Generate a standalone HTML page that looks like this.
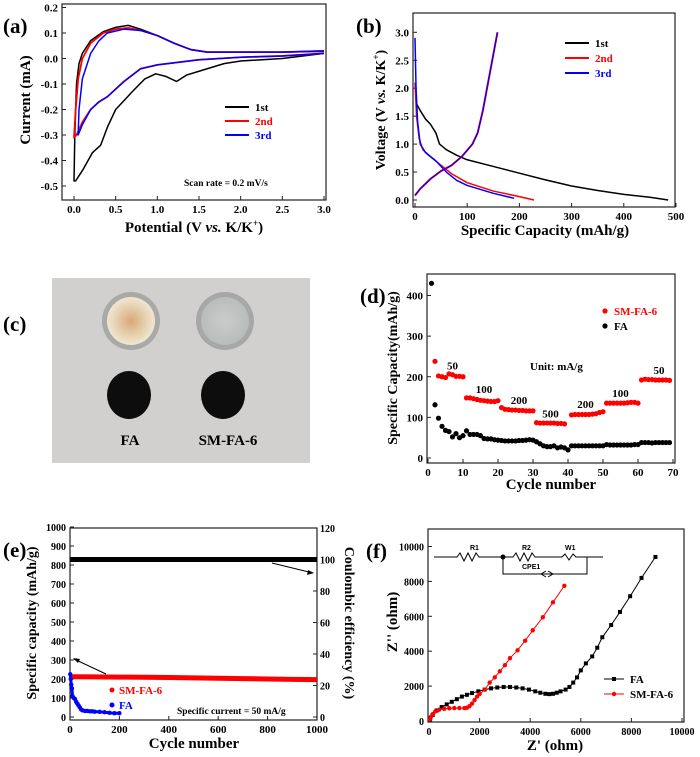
<!DOCTYPE html>
<html><head><meta charset="utf-8"><style>
body{margin:0;background:#fff}
svg{display:block;font-family:"Liberation Serif",serif;font-weight:bold}
</style></head><body>
<svg id="fig" width="700" height="757" viewBox="0 0 700 757">
<defs>
<radialGradient id="faCap" cx="0.5" cy="0.5" r="0.5"><stop offset="0" stop-color="#d9a877"/><stop offset="0.7" stop-color="#e8d6b8"/><stop offset="1" stop-color="#efe6d2"/></radialGradient>
<radialGradient id="smCap" cx="0.5" cy="0.5" r="0.5"><stop offset="0" stop-color="#c9ccca"/><stop offset="1" stop-color="#b9bcba"/></radialGradient>
</defs>
<g>
<rect x="52" y="278" width="258" height="185" fill="#d2d0ce"/>
<circle cx="131" cy="321" r="29" fill="#a9a9a7"/>
<circle cx="131" cy="321" r="24" fill="url(#faCap)"/>
<circle cx="225" cy="321" r="29" fill="#a6a8a8"/>
<circle cx="225" cy="321" r="24" fill="url(#smCap)"/>
<ellipse cx="129" cy="395" rx="22" ry="24" fill="#0d0d0d"/>
<ellipse cx="223" cy="395" rx="22" ry="24" fill="#0d0d0d"/>
<text x="130" y="445" font-size="15" text-anchor="middle">FA</text>
<text x="228" y="445" font-size="15" text-anchor="middle">SM-FA-6</text>
</g>
<text x="3" y="33" font-size="21">(a)</text>
<text x="356" y="33" font-size="21">(b)</text>
<text x="3" y="331" font-size="21">(c)</text>
<text x="360" y="303" font-size="21">(d)</text>
<text x="3" y="557" font-size="21">(e)</text>
<text x="366" y="558" font-size="21">(f)</text>
</svg>
<script>
// ---- data arrays ----
const cv1X=[3.0,2.5,2.0,1.8,1.5,1.35,1.23,1.1,0.98,0.85,0.7,0.5,0.4,0.32,0.22,0.1,0.02,0.0,0.01,0.03,0.06,0.1,0.2,0.35,0.5,0.65,0.8,1.0,1.2,1.4,1.6,2.0,2.5,3.0];
const cv1Y=[0.02,0.0,-0.01,-0.02,-0.05,-0.065,-0.09,-0.07,-0.06,-0.08,-0.13,-0.2,-0.27,-0.34,-0.37,-0.44,-0.48,-0.48,-0.3,-0.1,-0.02,0.02,0.07,0.105,0.122,0.13,0.115,0.09,0.06,0.035,0.025,0.025,0.025,0.028];
const cv2X=[3.0,2.5,2.0,1.5,1.0,0.8,0.6,0.4,0.3,0.2,0.1,0.03,0.0,0.02,0.05,0.1,0.2,0.35,0.5,0.65,0.8,1.0,1.2,1.4,1.6,2.0,2.5,3.0];
const cv2Y=[0.02,0.01,0.005,-0.005,-0.025,-0.04,-0.09,-0.15,-0.17,-0.2,-0.25,-0.3,-0.31,-0.2,-0.08,0.0,0.06,0.1,0.115,0.12,0.11,0.09,0.06,0.035,0.025,0.025,0.025,0.03];
const cv3X=[3.0,2.5,2.0,1.5,1.0,0.8,0.6,0.4,0.3,0.2,0.1,0.05,0.06,0.1,0.2,0.3,0.4,0.6,0.8,1.0,1.2,1.4,1.6,2.0,2.5,3.0];
const cv3Y=[0.02,0.01,0.005,-0.005,-0.025,-0.04,-0.09,-0.15,-0.17,-0.2,-0.26,-0.3,-0.2,-0.08,0.02,0.07,0.1,0.115,0.11,0.09,0.06,0.035,0.025,0.025,0.025,0.03];
const b1X=[3,10,20,30,40,47,60,80,100,150,200,250,300,350,400,450,485];
const b1Y=[1.72,1.6,1.45,1.35,1.2,1.0,0.9,0.8,0.72,0.6,0.48,0.36,0.25,0.17,0.1,0.05,0.0];
const b2X=[0,3,8,15,30,50,70,100,150,200,228];
const b2Y=[2.1,1.5,1.1,0.9,0.77,0.62,0.47,0.31,0.16,0.06,0.0];
const b3X=[0,2,5,10,20,40,60,80,100,150,190];
const b3Y=[2.9,2.0,1.4,1.0,0.85,0.7,0.5,0.35,0.26,0.12,0.03];
const bcX=[0,10,30,50,70,90,110,120,130,140,150,158];
const bcY=[0.08,0.2,0.38,0.52,0.62,0.78,1.0,1.2,1.6,2.1,2.6,3.0];
const dSmCycles=[2,3,4,5,6,7,8,9,10,11,12,13,14,15,16,17,18,19,20,21,22,23,24,25,26,27,28,29,30,31,32,33,34,35,36,37,38,39,41,42,43,44,45,46,47,48,49,50,51,52,53,54,55,56,57,58,59,60,61,62,63,64,65,66,67,68,69];
const dSm=[238,202,200,198,207,205,201,201,200,148,148,146,144,142,141,140,139,139,141,124,120,119,118,118,117,117,116,116,116,87,86,86,86,86,86,85,85,84,106,107,107,107,107,107,108,109,112,114,135,135,135,135,135,135,136,137,137,135,192,194,193,193,192,192,192,192,191];
const dFa=[430,131,98,78,68,65,52,60,50,55,67,58,58,58,55,48,47,47,45,44,43,42,42,42,42,43,43,44,45,44,40,35,30,28,28,30,25,27,25,20,30,30,30,30,30,30,30,30,30,30,33,32,32,32,32,32,32,32,33,33,38,38,38,37,38,38,38,38,38];
const dRateLabels=["50","100","200","500","200","100","50"];
const dRateCycle=[7,16,26,35,45,55,66];
const dRateCap=[218,160,133,100,123,150,207];
const eCycles=[1,100,200,300,400,500,600,700,800,900,1000];
const eSm=[212,211,210,209,208,206,204,202,200,198,197];
const eCE=[100,100,100,100,100,100,100,100,100,100,100];
const eFaCycles=[1,3,5,8,10,15,20,25,30,35,40,45,50,60,70,80,90,100,120,140,160,180,200];
const eFa=[225,200,170,150,110,100,95,80,70,60,50,40,35,32,32,30,30,28,27,25,22,20,20];
const fFaX=[50,150,300,500,700,900,1100,1300,1500,1700,1950,2200,2450,2700,2950,3200,3450,3700,3950,4200,4400,4600,4750,4900,5050,5200,5400,5550,5700,5850,6000,6200,6450,6650,6850,7200,7550,7950,8400,8950];
const fFaY=[150,350,600,800,950,1100,1250,1400,1500,1600,1700,1800,1870,1920,1950,1950,1920,1870,1800,1700,1620,1560,1540,1560,1620,1700,1800,1950,2200,2500,2900,3300,3700,4200,4800,5500,6250,7150,8200,9400];
const fSmX=[30,80,150,250,400,600,800,1000,1200,1400,1500,1600,1700,1800,1900,2000,2200,2400,2600,2800,3000,3200,3500,3800,4100,4500,4900,5350];
const fSmY=[100,250,400,550,650,700,730,740,740,740,760,850,1000,1200,1400,1550,1800,2200,2500,2850,3200,3600,4050,4600,5200,5950,6800,7750];

const NS="http://www.w3.org/2000/svg", svg=document.getElementById('fig');
function mk(tag,attrs,parent,text){const e=document.createElementNS(NS,tag);for(const k in attrs)e.setAttribute(k,attrs[k]);if(text!==undefined)e.textContent=text;(parent||svg).appendChild(e);return e;}
function lin(d0,d1,r0,r1){return v=>r0+(v-d0)/(d1-d0)*(r1-r0);}
function frame(name,l,t,r,b){const g=mk('g',{});
 const f=mk('rect',{x:l,y:t,width:r-l,height:b-t,fill:'none',stroke:'#222','stroke-width':1.2},g);return g;}
function xticks(g,vals,sx,b,labels,fs){vals.forEach((v,i)=>{mk('line',{x1:sx(v),x2:sx(v),y1:b,y2:b-4,stroke:'#222'},g);const t=mk('text',{x:sx(v),y:b+13,'font-size':fs||11,'text-anchor':'middle'},g,labels[i]);});}
function yticks(g,vals,sy,l,labels,fs){vals.forEach((v,i)=>{mk('line',{x1:l,x2:l+4,y1:sy(v),y2:sy(v),stroke:'#222'},g);const t=mk('text',{x:l-4,y:sy(v)+4,'font-size':fs||11,'text-anchor':'end'},g,labels[i]);});}
function line(g,xs,ys,sx,sy,color,w,name){const p=mk('polyline',{points:xs.map((x,i)=>sx(x)+','+sy(ys[i])).join(' '),fill:'none',stroke:color,'stroke-width':w||1.5,'stroke-linejoin':'round'},g);return p;}
function title(g,x,y,txt,rot,fs,name){const t=mk('text',{x:x,y:y,'font-size':fs||15,'text-anchor':'middle',transform:rot?`rotate(-90 ${x} ${y})`:''},g,txt);return t;}
function leg(g,x,y,color,txt,fs,name){mk('line',{x1:x,x2:x+24,y1:y-4,y2:y-4,stroke:color,'stroke-width':2},g);const t=mk('text',{x:x+30,y:y,'font-size':fs||11,fill:color},g,txt);}
function fmt1(v){return v.toFixed(1);}

{const g=frame('panel-a-cv',62,4,326,200);const sx=lin(0,3,74,324),sy=lin(0,0.2,58.5,7.5);
 const xv=[0,0.5,1,1.5,2,2.5,3];xticks(g,xv,sx,200,xv.map(fmt1));
 const yv=[0.2,0.1,0,-0.1,-0.2,-0.3,-0.4,-0.5];yticks(g,yv,sy,62,yv.map(fmt1));
 line(g,cv1X,cv1Y,sx,sy,'#000',1.5,'cv-1st');line(g,cv2X,cv2Y,sx,sy,'#f00',1.8,'cv-2nd');line(g,cv3X,cv3Y,sx,sy,'#00f',1.5,'cv-3rd');
 leg(g,225,111,'#000','1st',11,'legend-1st');leg(g,225,125,'#f00','2nd',11,'legend-2nd');leg(g,225,139,'#00f','3rd',11,'legend-3rd');
 const s=mk('text',{x:184,y:186,'font-size':9.5},g,'Scan rate = 0.2 mV/s');
 title(g,30,100,'Current (mA)',true,15,'y-axis-title');
 const xt=title(g,194,232,'',false,15,'x-axis-title');xt.innerHTML='Potential (V <tspan font-style="italic">vs.</tspan> K/K<tspan dy="-6" font-size="9">+</tspan><tspan dy="6">)</tspan>';}
{const g=frame('panel-b-voltage',413,13,675,207);const sx=lin(0,500,415,676),sy=lin(0,3,200,32.3);
 const xv=[0,100,200,300,400,500];xticks(g,xv,sx,207,xv.map(String));
 const yv=[0,0.5,1,1.5,2,2.5,3];yticks(g,yv,sy,413,yv.map(fmt1));
 line(g,b1X,b1Y,sx,sy,'#000',1.5,'discharge-1st');line(g,b2X,b2Y,sx,sy,'#f00',1.5,'discharge-2nd');line(g,b3X,b3Y,sx,sy,'#00f',1.5,'discharge-3rd');
 line(g,bcX,bcY,sx,sy,'#f00',2,'charge-2nd');line(g,bcX,bcY,sx,sy,'#00f',1.2,'charge-3rd');
 leg(g,565,47,'#000','1st',11,'legend-1st');leg(g,565,62,'#f00','2nd',11,'legend-2nd');leg(g,565,77,'#00f','3rd',11,'legend-3rd');
 title(g,385,110,'',true,14,'y-axis-title').innerHTML='Voltage (V <tspan font-style="italic">vs.</tspan> K/K<tspan dy="-6" font-size="9">+</tspan><tspan dy="6">)</tspan>';
 title(g,545,235,'Specific Capacity (mAh/g)',false,15,'x-axis-title');}
{const g=frame('panel-d-rate',427,274,675,463);const sx=lin(0,70,428,673),sy=lin(0,400,458,295.5);
 const xv=[0,10,20,30,40,50,60,70];xticks(g,xv,sx,463,xv.map(String));
 const yv=[0,100,200,300,400];yticks(g,yv,sy,427,yv.map(String));
 dFa.forEach((v,i)=>{const c=mk('circle',{cx:sx(i+1),cy:sy(v),r:2.6,fill:'#000'},g);});
 dSm.forEach((v,i)=>{const c=mk('circle',{cx:sx(dSmCycles[i]),cy:sy(v),r:2.6,fill:'#f00'},g);});
 dRateLabels.forEach((s,i)=>{const t=mk('text',{x:sx(dRateCycle[i]),y:sy(dRateCap[i]),'font-size':11,'text-anchor':'middle'},g,s);});
 const u=mk('text',{x:530,y:370,'font-size':11},g,'Unit: mA/g');
 mk('circle',{cx:605,cy:311,r:2.6,fill:'#f00'},g);const l1=mk('text',{x:614,y:315,'font-size':11,fill:'#f00'},g,'SM-FA-6');
 mk('circle',{cx:605,cy:326,r:2.6,fill:'#000'},g);const l2=mk('text',{x:614,y:330,'font-size':11},g,'FA');
 title(g,397,368,'Specific Capacity(mAh/g)',true,14,'y-axis-title');
 title(g,551,489,'Cycle number',false,15,'x-axis-title');}
{const g=frame('panel-e-cycling',70,528,317,720);const sx=lin(0,1000,70,317),sy=lin(0,1000,717,527),sy2=lin(0,120,717,528);
 const xv=[0,200,400,600,800,1000];xticks(g,xv,sx,720,xv.map(String));
 const yv=[0,100,200,300,400,500,600,700,800,900,1000];yticks(g,yv,sy,70,yv.map(String),10);
 [0,20,40,60,80,100,120].forEach(v=>{mk('line',{x1:317,x2:313,y1:sy2(v),y2:sy2(v),stroke:'#222'},g);const t=mk('text',{x:320,y:sy2(v)+4,'font-size':10},g,String(v));});
 line(g,eCycles,eCE,sx,sy2,'#000',5,'coulombic-efficiency');
 line(g,eCycles,eSm,sx,sy,'#f00',5,'sm-fa-6-capacity');
 eFa.forEach((v,i)=>{const c=mk('circle',{cx:sx(eFaCycles[i]),cy:sy(v),r:2.2,fill:'#00f'},g);});
 line(g,eFaCycles,eFa,sx,sy,'#00f',3,'fa-capacity');
 mk('line',{x1:106,y1:674,x2:74,y2:659,stroke:'#000'},g);mk('polygon',{points:'73,658 80,659 78,663',fill:'#000'},g);
 mk('line',{x1:272,y1:563,x2:313,y2:573,stroke:'#000'},g);mk('polygon',{points:'314,573 307,575 308,570',fill:'#000'},g);
 mk('circle',{cx:112,cy:690,r:2.5,fill:'#f00'},g);const a=mk('text',{x:119,y:694,'font-size':11,fill:'#f00'},g,'SM-FA-6');
 mk('circle',{cx:112,cy:705,r:2.5,fill:'#00f'},g);const b=mk('text',{x:119,y:709,'font-size':11,fill:'#00f'},g,'FA');
 const n=mk('text',{x:177,y:714,'font-size':9.5},g,'Specific current = 50 mA/g');
 title(g,36,623,'Specific capacity (mAh/g)',true,14,'y-axis-title');
 const t2=mk('text',{x:345,y:623,'font-size':14,'text-anchor':'middle',transform:'rotate(90 345 623)'},g,'Coulombic efficiency (%)');
 title(g,194,748,'Cycle number',false,15,'x-axis-title');}
{const g=frame('panel-f-eis',428,529,684,722);const sx=lin(0,10000,429,682),sy=lin(0,10000,721,546.5);
 const xv=[0,2000,4000,6000,8000,10000];xticks(g,xv,sx,722,xv.map(String),10);
 const yv=[0,2000,4000,6000,8000,10000];yticks(g,yv,sy,428,yv.map(String),10);
 line(g,fFaX,fFaY,sx,sy,'#000',1,'fa-line');
 fFaX.forEach((x,i)=>{const r=mk('rect',{x:sx(x)-2,y:sy(fFaY[i])-2,width:4,height:4,fill:'#000'},g);});
 line(g,fSmX,fSmY,sx,sy,'#f00',1,'sm-fa-6-line');
 fSmX.forEach((x,i)=>{const c=mk('circle',{cx:sx(x),cy:sy(fSmY[i]),r:2.2,fill:'#f00'},g);});
 mk('line',{x1:604,x2:624,y1:679,y2:679,stroke:'#000'},g);mk('rect',{x:612,y:677,width:4,height:4,fill:'#000'},g);
 const l1=mk('text',{x:630,y:683,'font-size':11},g,'FA');
 mk('line',{x1:604,x2:624,y1:694,y2:694,stroke:'#f00'},g);mk('circle',{cx:614,cy:694,r:2.2,fill:'#f00'},g);
 const l2=mk('text',{x:630,y:698,'font-size':11},g,'SM-FA-6');
 const c=mk('g',{stroke:'#000',fill:'none','stroke-width':1},g);
 mk('path',{d:'M434,557 H457 l3,-4 l4,8 l4,-8 l4,8 l4,-8 l3,4 H503 H513 l3,-4 l4,8 l4,-8 l4,8 l4,-8 l3,4 H562 l3,-3 l4,6 l4,-6 l3,3 H602 M587,557 V574 H503 V557 M541,574 l5,-3 M541,574 l5,3 M548,571 l5,3 l-5,3 M587,557 H603'},c);
 mk('circle',{cx:503,cy:557,r:2.5,fill:'#000'},g);
 [['R1',470,550],['R2',522,550],['W1',565,550],['CPE1',522,569]].forEach(a=>{const t=mk('text',{x:a[1],y:a[2],'font-size':7,'font-family':'Liberation Sans,sans-serif'},g,a[0]);});
 title(g,397,622,"Z'' (ohm)",true,15,'y-axis-title');
 title(g,555,750,"Z' (ohm)",false,15,'x-axis-title');}
</script>
</body></html>
